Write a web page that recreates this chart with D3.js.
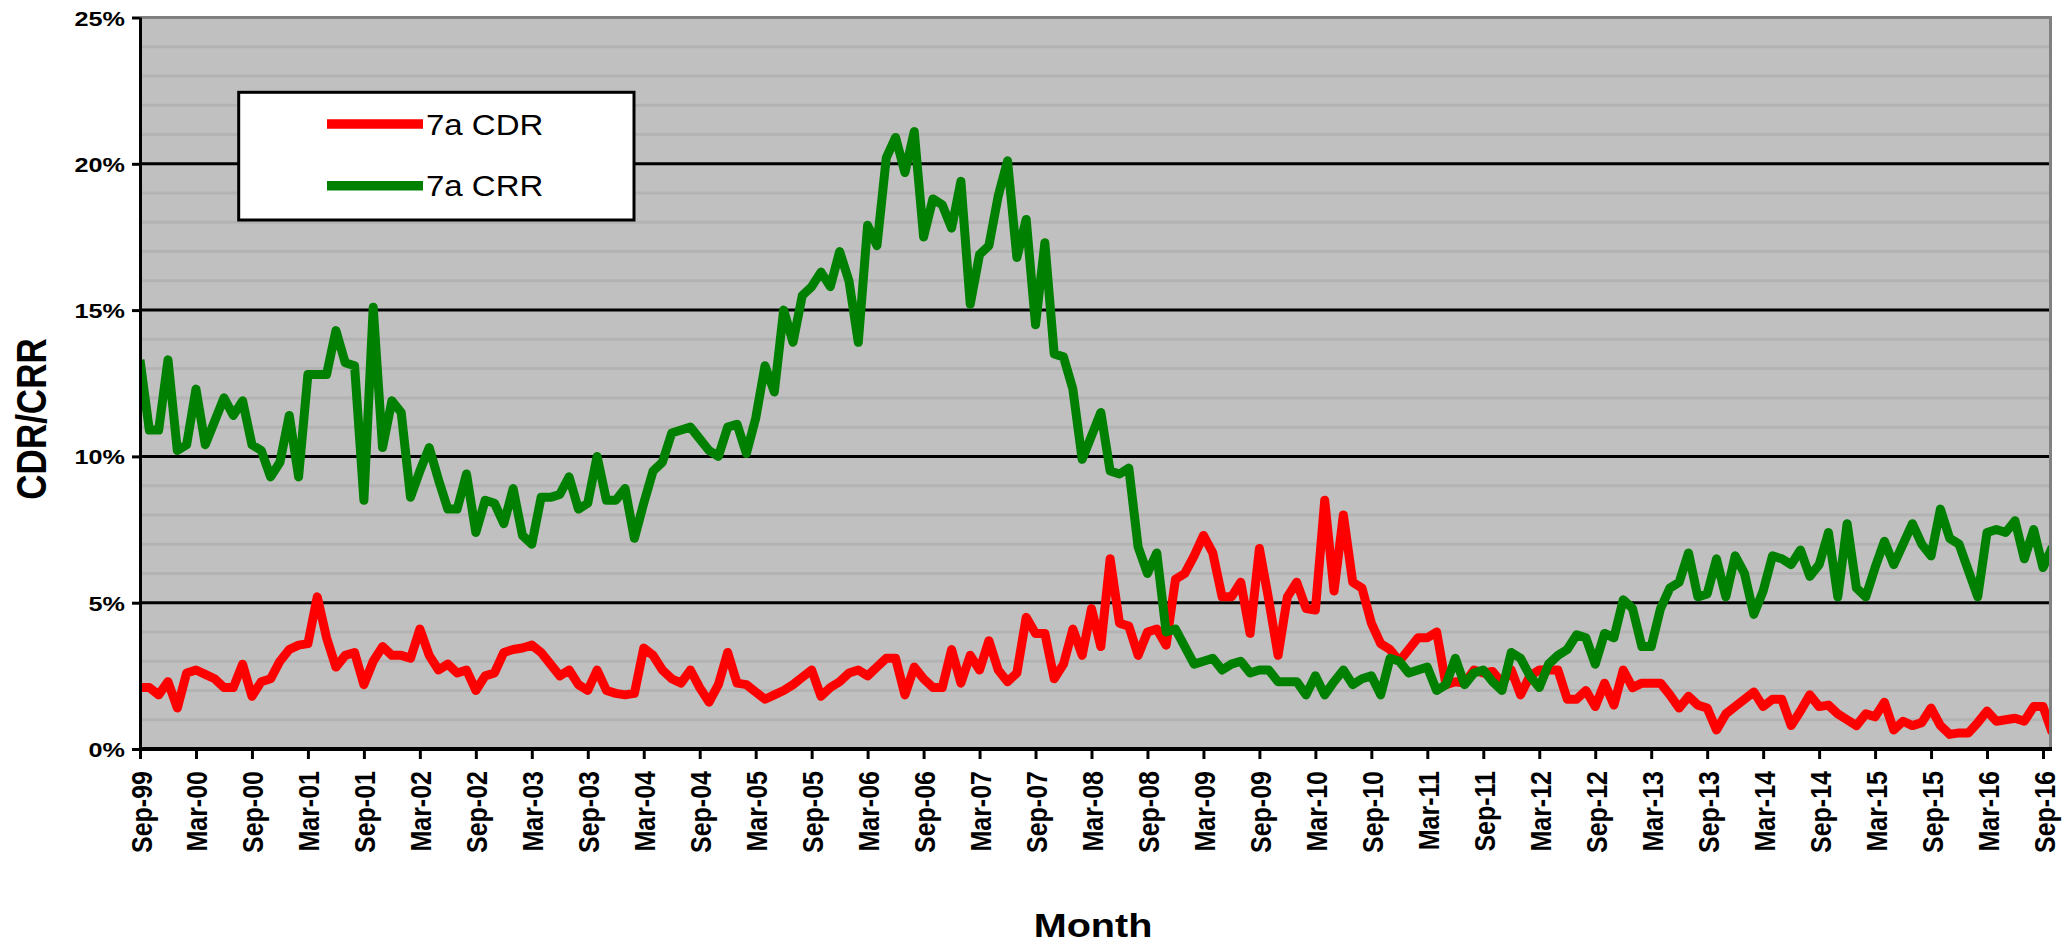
<!DOCTYPE html>
<html>
<head>
<meta charset="utf-8">
<script src="https://cdnjs.cloudflare.com/ajax/libs/d3/7.8.5/d3.min.js"></script>
<style>
  body { margin: 0; background: #fff; }
  svg text { font-family: "Liberation Sans", Arial, sans-serif; fill: #000; }
</style>
</head>
<body>
<svg id="chart" width="2065" height="944"></svg>
<script>
// month labels shown on the x axis, one every 6 months from Sep-99
const tickLabels = ["Sep-99","Mar-00","Sep-00","Mar-01","Sep-01","Mar-02","Sep-02","Mar-03","Sep-03",
  "Mar-04","Sep-04","Mar-05","Sep-05","Mar-06","Sep-06","Mar-07","Sep-07","Mar-08","Sep-08",
  "Mar-09","Sep-09","Mar-10","Sep-10","Mar-11","Sep-11","Mar-12","Sep-12","Mar-13","Sep-13",
  "Mar-14","Sep-14","Mar-15","Sep-15","Mar-16","Sep-16"];

const yTicks = [0, 5, 10, 15, 20, 25];
const yMinor = [1,2,3,4,6,7,8,9,11,12,13,14,16,17,18,19,21,22,23,24];

const seriesNames = ["7a CDR", "7a CRR"];

// monthly values in %, starting Sep-99
const cdr = [2.1,2.1,1.85,2.3,1.4,2.6,2.7,2.55,2.4,2.1,
  2.1,2.9,1.8,2.3,2.4,3.0,3.4,3.55,3.6,5.2,
  3.8,2.8,3.2,3.3,2.2,3.0,3.5,3.2,3.2,3.1,
  4.1,3.2,2.7,2.9,2.6,2.7,2.0,2.5,2.6,3.3,
  3.4,3.45,3.55,3.3,2.9,2.5,2.7,2.2,2.0,2.7,
  2.0,1.9,1.85,1.9,3.45,3.2,2.7,2.4,2.25,2.7,
  2.1,1.6,2.2,3.3,2.25,2.2,1.95,1.7,1.85,2.0,
  2.2,2.45,2.7,1.8,2.1,2.3,2.6,2.7,2.5,2.8,
  3.1,3.1,1.85,2.8,2.4,2.1,2.1,3.4,2.25,3.2,
  2.7,3.7,2.7,2.3,2.6,4.5,3.95,3.95,2.4,2.9,
  4.1,3.2,4.8,3.5,6.5,4.3,4.2,3.2,4.0,4.1,
  3.55,5.8,6.0,6.6,7.3,6.7,5.2,5.2,5.7,3.95,
  6.85,5.1,3.2,5.2,5.7,4.8,4.75,8.5,5.4,8.0,
  5.7,5.5,4.3,3.6,3.4,3.0,3.4,3.8,3.8,4.0,
  2.2,2.3,2.25,2.7,2.6,2.65,2.25,2.7,1.85,2.5,
  2.7,2.7,2.7,1.7,1.7,2.0,1.45,2.25,1.5,2.7,
  2.1,2.25,2.25,2.25,1.85,1.4,1.8,1.5,1.4,0.65,
  1.2,1.45,1.7,1.95,1.45,1.7,1.7,0.8,1.3,1.85,
  1.45,1.5,1.2,1.0,0.8,1.2,1.1,1.6,0.65,0.95,
  0.8,0.9,1.4,0.8,0.5,0.55,0.55,0.9,1.3,0.95,
  1.0,1.05,0.95,1.45,1.45,0.55];

const crr = [13.3,10.9,10.9,13.3,10.2,10.4,12.3,10.4,11.2,12.0,
  11.4,11.9,10.4,10.2,9.3,9.8,11.4,9.3,12.8,12.8,
  12.8,14.3,13.2,13.1,8.5,15.1,10.3,11.9,11.5,8.6,
  9.5,10.3,9.2,8.2,8.2,9.4,7.4,8.5,8.4,7.7,
  8.9,7.3,7.0,8.6,8.6,8.7,9.3,8.2,8.4,10.0,
  8.5,8.5,8.9,7.2,8.4,9.5,9.8,10.8,10.9,11.0,
  10.6,10.2,10.0,11.0,11.1,10.1,11.3,13.1,12.2,15.0,
  13.9,15.5,15.8,16.3,15.8,17.0,16.0,13.9,17.9,17.2,
  20.2,20.9,19.7,21.1,17.5,18.8,18.6,17.8,19.4,15.2,
  16.9,17.2,18.9,20.1,16.8,18.1,14.5,17.3,13.5,13.4,
  12.3,9.9,10.7,11.5,9.5,9.4,9.6,6.9,6.0,6.7,
  4.0,4.1,3.5,2.9,3.0,3.1,2.7,2.9,3.0,2.6,
  2.7,2.7,2.3,2.3,2.3,1.85,2.5,1.85,2.3,2.7,
  2.2,2.4,2.5,1.85,3.1,3.0,2.6,2.7,2.8,2.0,
  2.2,3.1,2.2,2.6,2.7,2.3,2.0,3.3,3.1,2.5,
  2.1,2.9,3.2,3.4,3.9,3.8,2.9,3.95,3.8,5.1,
  4.8,3.5,3.5,4.8,5.5,5.7,6.7,5.2,5.3,6.5,
  5.2,6.6,6.0,4.6,5.4,6.6,6.5,6.3,6.8,5.9,
  6.3,7.4,5.2,7.7,5.5,5.2,6.2,7.1,6.3,7.0,
  7.7,7.0,6.6,8.2,7.2,7.0,6.1,5.2,7.4,7.5,
  7.4,7.8,6.5,7.5,6.2,6.9];

const colors = ["#ff0000", "#008000"];

const plotLeft = 140, plotRight = 2049, plotTop = 17.5, plotBottom = 749;

const svg = d3.select("#chart");

const x = d3.scaleLinear().domain([0, 204]).range([plotLeft, 2043]);
const y = d3.scaleLinear().domain([0, 25]).range([plotBottom, plotTop]);

// plot area
svg.append("rect")
    .attr("x", plotLeft).attr("y", plotTop)
    .attr("width", plotRight - plotLeft).attr("height", plotBottom - plotTop)
    .attr("fill", "#c0c0c0");

svg.append("g").selectAll("line")
    .data(yMinor).enter()
    .append("line")
    .attr("x1", plotLeft).attr("x2", plotRight)
    .attr("y1", d => y(d)).attr("y2", d => y(d))
    .attr("stroke", "#b3b3b3")
    .attr("stroke-width", 3);

svg.append("g").selectAll("line")
    .data(yTicks.filter(d => d > 0 && d < 25)).enter()
    .append("line")
    .attr("x1", plotLeft).attr("x2", plotRight)
    .attr("y1", d => y(d)).attr("y2", d => y(d))
    .attr("stroke", "#000")
    .attr("stroke-width", 3);

// gray frame on top and right
svg.append("path")
    .attr("d", `M${plotLeft},${y(25)}H${plotRight + 1.5}V${plotBottom}`)
    .attr("fill", "none")
    .attr("stroke", "#808080")
    .attr("stroke-width", 3);

svg.append("clipPath").attr("id", "clip")
    .append("rect")
    .attr("x", plotLeft).attr("y", plotTop - 2)
    .attr("width", plotRight - plotLeft).attr("height", plotBottom - plotTop + 2);

const line = d3.line()
    .x((d, i) => x(i))
    .y(d => y(d));

svg.append("g")
    .attr("clip-path", "url(#clip)")
    .selectAll("path")
    .data([cdr, crr]).enter()
    .append("path")
    .attr("d", line)
    .attr("fill", "none")
    .attr("stroke", (d, i) => colors[i])
    .attr("stroke-width", 9)
    .attr("stroke-linejoin", "round");

// y axis
const yAxis = d3.axisLeft(y)
    .tickValues(yTicks)
    .tickSize(8)
    .tickSizeOuter(0)
    .tickFormat(d => d + "%");

const gy = svg.append("g")
    .attr("transform", `translate(${plotLeft},0)`)
    .call(yAxis);
gy.select(".domain").remove();
gy.selectAll(".tick line").attr("stroke", "#000").attr("stroke-width", 3);
gy.selectAll(".tick text")
    .attr("x", null).attr("dy", null)
    .attr("text-anchor", "end")
    .attr("transform", "translate(-15,7.5) scale(1.2,1)")
    .style("font-family", "'Liberation Sans', Arial, sans-serif")
    .style("font-size", "21px")
    .style("font-weight", "bold");

// x axis
const xAxis = d3.axisBottom(x)
    .tickValues(tickLabels.map((d, k) => k * 6))
    .tickSize(10)
    .tickSizeOuter(0)
    .tickFormat((d, k) => tickLabels[k]);

const gx = svg.append("g")
    .attr("transform", `translate(0,${plotBottom})`)
    .call(xAxis);
gx.select(".domain").remove();
gx.selectAll(".tick line").attr("stroke", "#000").attr("stroke-width", 3);
gx.selectAll(".tick text")
    .attr("x", 0).attr("y", 0).attr("dy", null)
    .attr("text-anchor", "end")
    .attr("transform", "translate(11,22) scale(1.2,1) rotate(-90)")
    .style("font-family", "'Liberation Sans', Arial, sans-serif")
    .style("font-size", "25px")
    .style("font-weight", "bold");

// axis lines
svg.append("line")
    .attr("x1", plotLeft + 0.5).attr("x2", plotLeft + 0.5)
    .attr("y1", plotTop).attr("y2", plotBottom + 2)
    .attr("stroke", "#000").attr("stroke-width", 3);
svg.append("line")
    .attr("x1", plotLeft - 1).attr("x2", plotRight + 3)
    .attr("y1", plotBottom).attr("y2", plotBottom)
    .attr("stroke", "#000").attr("stroke-width", 4);

// titles
svg.append("text")
    .attr("transform", "translate(46,419) scale(1.2,1) rotate(-90)")
    .attr("text-anchor", "middle")
    .style("font-size", "35px")
    .style("font-weight", "bold")
    .text("CDR/CRR");

svg.append("text")
    .attr("transform", "translate(1093,937) scale(1.2,1)")
    .attr("text-anchor", "middle")
    .style("font-size", "33px")
    .style("font-weight", "bold")
    .text("Month");

// legend
const legend = svg.append("g");
legend.append("rect")
    .attr("x", 238.7).attr("y", 92.3)
    .attr("width", 395.3).attr("height", 127.7)
    .attr("fill", "#fff")
    .attr("stroke", "#000")
    .attr("stroke-width", 3);

const rows = [124, 185.7];
seriesNames.forEach(function (name, i) {
    legend.append("line")
        .attr("x1", 327).attr("x2", 423)
        .attr("y1", rows[i]).attr("y2", rows[i])
        .attr("stroke", colors[i])
        .attr("stroke-width", 9.5);
    legend.append("text")
        .attr("transform", `translate(426,${rows[i] + 10.5}) scale(1.1,1)`)
        .style("font-size", "30px")
        .text(name);
});
</script>
</body>
</html>
